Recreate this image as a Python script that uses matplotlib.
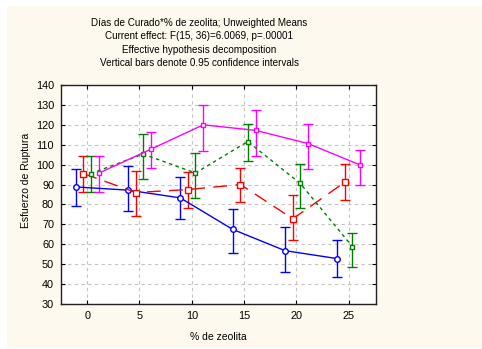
import numpy as np
import matplotlib.pyplot as plt
from matplotlib.patches import Rectangle

plt.rcParams['font.family'] = ['Liberation Sans', 'DejaVu Sans']

# % de zeolita (x categories)
zeolita = [0, 5, 10, 15, 20, 25]

# means and 0.95 confidence limits
azul_media = [88.8, 87.2, 83.3, 67.5, 56.8, 52.8]
azul_inf = [79.3, 76.8, 72.6, 55.6, 46.2, 43.5]
azul_sup = [97.8, 99.5, 93.8, 77.8, 68.8, 62.0]

rojo_media = [95.5, 86.0, 87.5, 90.0, 72.8, 91.3]
rojo_inf = [86.3, 74.0, 78.0, 81.0, 62.0, 82.2]
rojo_sup = [104.5, 96.7, 96.3, 98.5, 84.6, 100.5]

verde_media = [95.5, 105.3, 95.8, 111.6, 90.6, 58.8]
verde_inf = [86.3, 92.8, 83.3, 102.0, 78.0, 48.8]
verde_sup = [104.5, 115.2, 105.8, 120.5, 100.5, 65.8]

magenta_media = [95.7, 107.8, 120.0, 117.2, 110.6, 99.8]
magenta_inf = [86.3, 98.5, 107.0, 104.5, 98.0, 90.0]
magenta_sup = [104.5, 116.5, 129.8, 127.2, 120.5, 107.2]

titulo = ["Días de Curado*% de zeolita; Unweighted Means",
          "Current effect: F(15, 36)=6.0069, p=.00001",
          "Effective hypothesis decomposition",
          "Vertical bars denote 0.95 confidence intervals"]

W, H = 482, 349
fig = plt.figure(figsize=(W/100, H/100), dpi=100)
fig.patch.set_facecolor('white')
fig.patches.append(Rectangle((7/W, 1/H), 1, (H-7)/H, transform=fig.transFigure,
                             facecolor='#FEF9EE', edgecolor='none', zorder=-1))

ax = fig.add_axes([61/W, (H-304)/H, 315/W, 219/H])
ax.set_facecolor('white')

series = [
    (azul_media, azul_inf, azul_sup, -1.1, '#0000FF', 'o', 4.0, '-'),
    (rojo_media, rojo_inf, rojo_sup, -0.35, '#FF0000', 's', 4.0, (0, (10, 6))),
    (verde_media, verde_inf, verde_sup, 0.35, '#008000', 's', 2.2, (0, (2.5, 2.5))),
    (magenta_media, magenta_inf, magenta_sup, 1.1, '#FF00FF', 's', 2.4, '-'),
]

x = np.array(zeolita, dtype=float)
for media, inf, sup, dx, col, mk, ms, ls in series:
    media = np.array(media)
    yerr = [media - np.array(inf), np.array(sup) - media]
    ax.errorbar(x + dx, media, yerr=yerr, color=col, ecolor=col, linestyle=ls,
                lw=1.0, elinewidth=1.0, capsize=3.5, capthick=1.0,
                marker=mk, ms=ms, mfc='white', mec=col, mew=1.0, zorder=3)

ax.set_xlim(-2.5, 27.6)
ax.set_ylim(30, 140)
ax.set_xticks(zeolita)
ax.set_yticks(np.arange(30, 141, 10))
ax.grid(True, ls=(0, (3, 3)), color='#c4c4c4', lw=0.8)
ax.set_axisbelow(True)
ax.tick_params(direction='in', top=True, right=True, length=3, width=0.8,
               labelsize=7.8, pad=5)
for s in ax.spines.values():
    s.set_linewidth(1.0)
    s.set_color('#202020')

for i, t in enumerate(titulo):
    fig.text(199/W, 1 - (22.7 + 13.6*i)/H, t, ha='center', va='center', fontsize=7.1)

fig.text(218/W, 1 - 337/H, "% de zeolita", ha='center', va='center', fontsize=7.5)
fig.text(26/W, 1 - 180/H, "Esfuerzo de Ruptura", ha='center', va='center',
         rotation=90, fontsize=7.5)

plt.savefig("out.png", dpi=100)
